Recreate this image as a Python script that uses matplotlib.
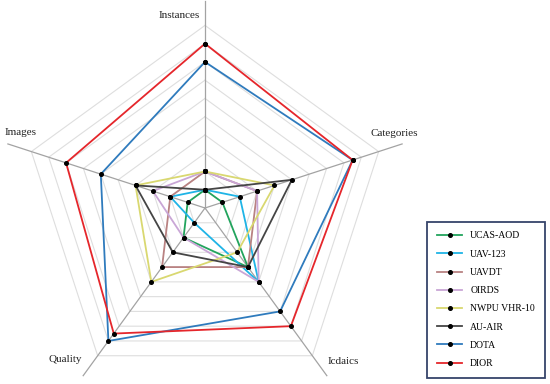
import numpy as np
import matplotlib
matplotlib.use('Agg')
import matplotlib.pyplot as plt

plt.rcParams['font.family'] = ['Liberation Serif', 'DejaVu Serif']

# axes of the radar, clockwise from top
axes_names = ['Instances', 'Categories', 'Icdaics', 'Quality', 'Images']

datasets = ['UCAS-AOD', 'UAV-123', 'UAVDT', 'OIRDS', 'NWPU VHR-10', 'AU-AIR', 'DOTA', 'DIOR']
ucas_aod = [1, 1, 4, 2, 1]
uav_123 = [1, 2, 5, 1, 2]
uavdt = [2, 3, 4, 4, 2]
oirds = [2, 3, 5, 2, 3]
nwpu_vhr10 = [2, 4, 3, 5, 4]
au_air = [1, 5, 4, 3, 4]
dota = [8, 8.5, 7, 9, 6]
dior = [9, 8.5, 8, 8.5, 8]
values = [ucas_aod, uav_123, uavdt, oirds, nwpu_vhr10, au_air, dota, dior]
colors = ['#22a45d', '#1fb4e6', '#b98282', '#c9a6d6', '#d9d870', '#454545', '#2f7bbd', '#e5262b']

rings = np.arange(1, 11)
r_max = 11.5

fig = plt.figure(figsize=(5.5, 3.84), dpi=100)
# centre of the chart at (205, 208) px, 1 unit = 18.26 px
rad_px = r_max * 18.26
ax = fig.add_axes([(205 - rad_px) / 550, (176 - rad_px) / 384, 2 * rad_px / 550, 2 * rad_px / 384],
                  projection='polar')
ax.set_theta_offset(np.pi / 2)
ax.set_theta_direction(-1)
ax.set_ylim(0, r_max)
ax.grid(False)
ax.set_xticks([])
ax.set_yticks([])
ax.spines['polar'].set_visible(False)
ax.patch.set_alpha(0)

theta = np.linspace(0, 2 * np.pi, len(axes_names), endpoint=False)
theta_closed = np.append(theta, theta[0])

# pentagon grid
for r in rings:
    ax.plot(theta_closed, [r] * (len(theta) + 1), color='#dedede', lw=0.8, zorder=1, clip_on=False)
# spokes
for t in theta:
    ax.plot([t, t], [0, 11.35], color='#a3a3a3', lw=0.9, zorder=2, clip_on=False)

handles = []
for name, vals, c in zip(datasets, values, colors):
    v = vals + [vals[0]]
    ln, = ax.plot(theta_closed, v, color=c, lw=1.3, zorder=3, clip_on=False,
                  marker='o', markersize=2.6, markerfacecolor='black', markeredgecolor='black')
    handles.append(ln)

# axis labels (angle clockwise from top in degrees, radius)
label_pos = [(352.3, 10.63), (68.4, 11.13), (138.1, 11.33), (222.8, 11.28), (292.2, 10.88)]
for name, (a, r) in zip(axes_names, label_pos):
    ax.text(np.deg2rad(a), r, name, ha='center', va='center', fontsize=8, color='#222222')

leg = fig.legend(handles, datasets, loc='lower left', bbox_to_anchor=(0.777, 0.016),
                 fontsize=7, frameon=True, fancybox=False, framealpha=1,
                 handlelength=2.6, handletextpad=0.8, labelspacing=0.95,
                 borderpad=1.0, borderaxespad=0)
leg.get_frame().set_edgecolor('#36446a')
leg.get_frame().set_linewidth(1.3)

fig.savefig('out.png', dpi=100)
